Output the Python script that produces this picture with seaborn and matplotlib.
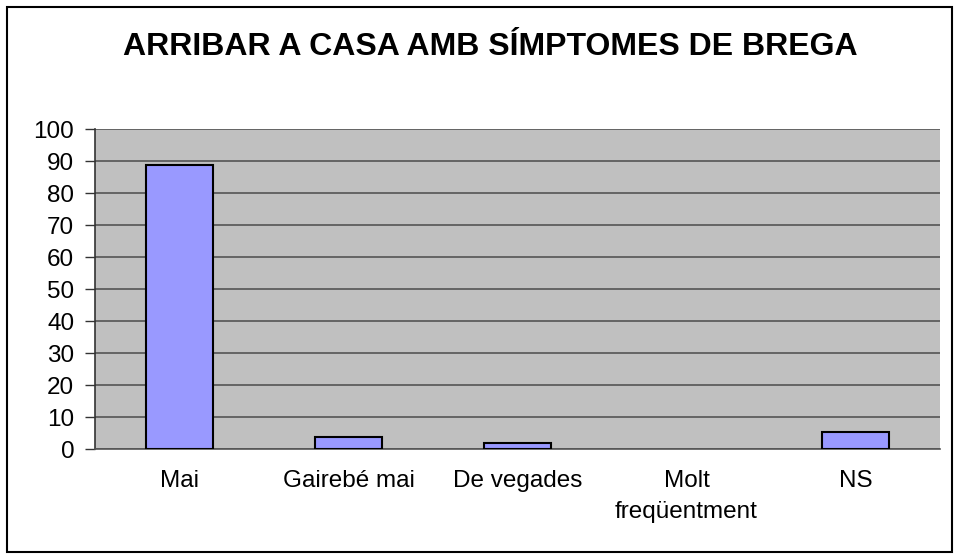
import matplotlib
matplotlib.use("Agg")
import matplotlib.pyplot as plt
import seaborn as sns
import pandas as pd
import numpy as np
from matplotlib.patches import Rectangle

categories = ["Mai", "Gairebé mai", "De vegades", "Molt\nfreqüentment", "NS"]
values = [88.8, 3.9, 2.0, 0.0, 5.2]
title = "ARRIBAR A CASA AMB SÍMPTOMES DE BREGA"
yticks = [0, 10, 20, 30, 40, 50, 60, 70, 80, 90, 100]

sns.set_theme(style="white")
plt.rcParams['font.family'] = ['Liberation Sans', 'DejaVu Sans']
plt.rcParams['text.color'] = 'black'
plt.rcParams['xtick.labelcolor'] = 'black'
plt.rcParams['ytick.labelcolor'] = 'black'

W, H = 961, 560
fig = plt.figure(figsize=(W / 100, H / 100), dpi=100)
ax = fig.add_axes([95 / W, 1 - 449 / H, (940 - 95) / W, (449 - 129) / H])

df = pd.DataFrame({"cat": categories, "val": values})
sns.barplot(data=df, x="cat", y="val", ax=ax, color="#9999FF", width=0.4,
            edgecolor="black", linewidth=1.5, saturation=1, zorder=3)
for p in ax.patches:
    if p.get_height() == 0:
        p.set_visible(False)

ax.set_facecolor("#C0C0C0")
ax.set_ylim(0, 100)
ax.set_xlim(-0.5, len(categories) - 0.5)
ax.set_yticks(yticks)
ax.set_yticklabels([str(t) for t in yticks], fontsize=17.5, color="black")
ax.yaxis.grid(True, color="#555555", linewidth=1.2, zorder=0)
ax.set_axisbelow(True)
ax.set_xlabel("")
ax.set_ylabel("")
ax.tick_params(axis="x", which="major", length=0, labelsize=17.5, pad=15, labelcolor="black")
ax.set_xticks(np.arange(-0.5, len(categories)), minor=True)
ax.tick_params(axis="x", which="minor", length=6, width=1, color="#555555", direction="out")
ax.tick_params(axis="y", length=7, width=1, color="#333333", direction="out", pad=8, left=True,
               labelcolor="black")
for lbl in ax.get_xticklabels():
    lbl.set_verticalalignment("top")
    lbl.set_linespacing(1.55)

for s in ["top", "right"]:
    ax.spines[s].set_visible(False)
ax.spines["left"].set_color("#333333")
ax.spines["left"].set_linewidth(1.2)
ax.spines["bottom"].set_color("#555555")
ax.spines["bottom"].set_linewidth(1.2)

fig.text(490 / W, 1 - 47 / H, title, ha="center", va="center",
         fontsize=23, fontweight="bold", color="black")

fig.patches.append(Rectangle((7 / W, 1 - 552 / H), (952 - 7) / W, (552 - 7) / H,
                             transform=fig.transFigure, fill=False,
                             edgecolor="black", linewidth=1.5))

fig.savefig("out.png", dpi=100, facecolor="white")
